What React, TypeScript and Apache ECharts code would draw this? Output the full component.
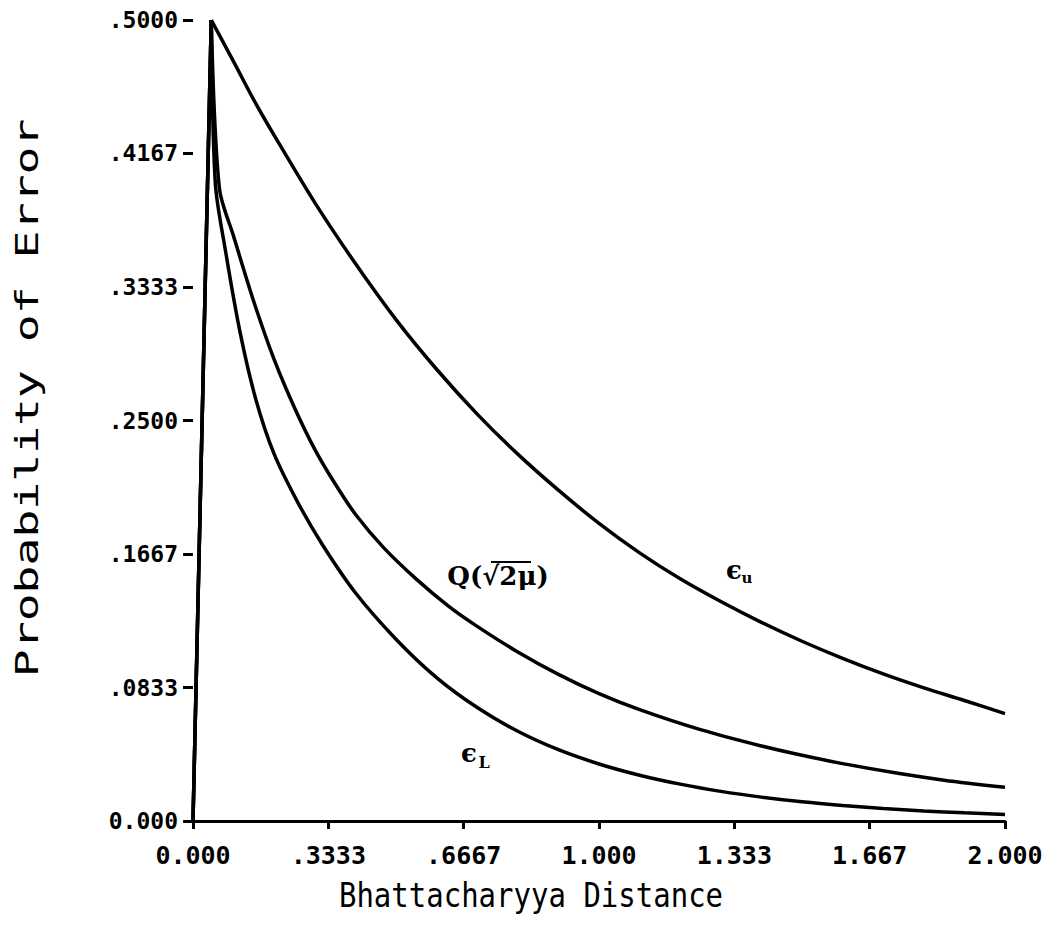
import React, { useEffect, useRef } from "react";
import * as echarts from "echarts";

// Axis ticks
const xTicks = [0, 0.33333, 0.66667, 1, 1.33333, 1.66667, 2];
const xTickLabels = ["0.000", ".3333", ".6667", "1.000", "1.333", "1.667", "2.000"];
const yTicks = [0, 0.08333, 0.16667, 0.25, 0.33333, 0.41667, 0.5];
const yTickLabels = ["0.000", ".0833", ".1667", ".2500", ".3333", ".4167", ".5000"];

// Upper bound (epsilon_u)
const muUpper = [0, 0.045, 0.1, 0.15, 0.2, 0.3, 0.4, 0.5, 0.6, 0.7, 0.8, 0.9, 1.0, 1.1, 1.2, 1.3, 1.4, 1.5, 1.6, 1.7, 1.8, 1.9, 2.0];
const epsUpper = [0, 0.5, 0.474, 0.45, 0.428, 0.386, 0.348, 0.313, 0.282, 0.254, 0.229, 0.2065, 0.1858, 0.1674, 0.1512, 0.137, 0.124, 0.1122, 0.1015, 0.0918, 0.0831, 0.0752, 0.067];

// Q(sqrt(2 mu))
const muQ = [0, 0.045, 0.065, 0.1, 0.15, 0.2, 0.25, 0.3, 0.35, 0.4, 0.47, 0.55, 0.63, 0.7, 0.8, 0.9, 1.0, 1.1, 1.25, 1.4, 1.5, 1.6, 1.74, 1.85, 2.0];
const qValues = [0, 0.5, 0.395, 0.365, 0.324, 0.288, 0.258, 0.232, 0.2105, 0.1915, 0.1705, 0.151, 0.134, 0.1215, 0.1055, 0.0915, 0.0795, 0.0695, 0.057, 0.0468, 0.041, 0.0358, 0.0296, 0.0255, 0.021];

// Lower bound (epsilon_L)
const muLower = [0, 0.045, 0.055, 0.08, 0.116, 0.155, 0.2, 0.26, 0.32, 0.4, 0.5, 0.6, 0.7, 0.8, 0.9, 1.0, 1.1, 1.2, 1.3, 1.4, 1.5, 1.6, 1.7, 1.8, 1.9, 2.0];
const epsLower = [0, 0.5, 0.398, 0.356, 0.305, 0.263, 0.229, 0.198, 0.172, 0.1425, 0.1135, 0.0895, 0.0708, 0.056, 0.0445, 0.0356, 0.0286, 0.023, 0.0185, 0.0149, 0.012, 0.0097, 0.0078, 0.0063, 0.0051, 0.0041];

const xTitle = "Bhattacharyya Distance";
const yTitle = "Probability of Error";

function labelFor(ticks: number[], labels: string[], v: number): string {
  for (let i = 0; i < ticks.length; i++) {
    if (Math.abs(ticks[i] - v) < 1e-3) return labels[i];
  }
  return "";
}

const pair = (xs: number[], ys: number[]) => xs.map((x, i) => [x, ys[i]]);

export default function App() {
  const ref = useRef<HTMLDivElement>(null);
  useEffect(() => {
    if (!ref.current) return;
    const chart = echarts.init(ref.current, undefined, { renderer: "svg" });
    const mono = '"DejaVu Sans Mono", monospace';
    const serif = '"DejaVu Serif", "Liberation Serif", serif';
    const lineStyle = { color: "#000", width: 3.5 };
    // each curve: the plotted rise from the origin to its first value, then the smooth decay
    const mk = (name: string, xs: number[], ys: number[]) => [
      {
        name,
        type: "line",
        data: pair(xs, ys).slice(0, 2),
        showSymbol: false,
        symbol: "none",
        lineStyle,
        silent: true,
        z: 3,
      },
      {
        name,
        type: "line",
        data: pair(xs, ys).slice(1),
        showSymbol: false,
        symbol: "none",
        smooth: 0.3,
        lineStyle,
        silent: true,
        z: 3,
      },
    ];
    const textStyle = (text: string, font: string) => ({
      text,
      font,
      fill: "#000",
      textAlign: "center",
      textVerticalAlign: "middle",
      align: "center",
      verticalAlign: "middle",
    });
    chart.setOption({
      animation: false,
      backgroundColor: "#fff",
      grid: { left: 193, right: 42, top: 20, bottom: 121, containLabel: false },
      xAxis: {
        type: "value",
        min: 0,
        max: 2,
        axisLine: { show: true, lineStyle: { color: "#000", width: 3 } },
        axisTick: { show: true, customValues: xTicks, length: 8, lineStyle: { color: "#000", width: 3 } },
        axisLabel: {
          customValues: xTicks,
          formatter: (v: number) => labelFor(xTicks, xTickLabels, v),
          color: "#000",
          fontFamily: mono,
          fontWeight: "bold",
          fontSize: 25,
          margin: 22,
        },
        splitLine: { show: false },
      },
      yAxis: {
        type: "value",
        min: 0,
        max: 0.5,
        axisLine: { show: false },
        axisTick: { show: true, customValues: yTicks, length: 10, lineStyle: { color: "#000", width: 3 } },
        axisLabel: {
          customValues: yTicks,
          formatter: (v: number) => labelFor(yTicks, yTickLabels, v),
          color: "#000",
          fontFamily: mono,
          fontWeight: "bold",
          fontSize: 23,
          margin: 15,
        },
        splitLine: { show: false },
      },
      series: [
        ...mk("εu", muUpper, epsUpper),
        ...mk("Q(√2μ)", muQ, qValues),
        ...mk("εL", muLower, epsLower),
      ],
      graphic: [
        {
          type: "text",
          x: 531,
          y: 895,
          scaleY: 1.15,
          style: textStyle(xTitle, `29px ${mono}`),
        },
        {
          type: "text",
          x: 27,
          y: 398,
          rotation: Math.PI / 2,
          scaleX: 1.6,
          scaleY: 1.1,
          style: textStyle(yTitle, `29px ${mono}`),
        },
        {
          type: "text",
          x: 498,
          y: 576,
          style: textStyle("Q(√2μ)", `bold 26px ${serif}`),
        },
        {
          type: "line",
          shape: { x1: 491, y1: 562, x2: 531, y2: 562 },
          style: { stroke: "#000", lineWidth: 2 },
        },
        {
          type: "text",
          x: 734,
          y: 570,
          style: textStyle("ϵ", `bold 26px ${serif}`),
        },
        {
          type: "text",
          x: 747,
          y: 578,
          style: textStyle("u", `bold 15px ${serif}`),
        },
        {
          type: "text",
          x: 469,
          y: 753,
          style: textStyle("ϵ", `bold 26px ${serif}`),
        },
        {
          type: "text",
          x: 484,
          y: 762,
          style: textStyle("L", `bold 16px ${serif}`),
        },
      ],
    });
    return () => chart.dispose();
  }, []);
  return (
    <div
      ref={ref}
      style={{ position: "absolute", left: 0, top: 0, width: 1047, height: 942, background: "#fff" }}
    />
  );
}
